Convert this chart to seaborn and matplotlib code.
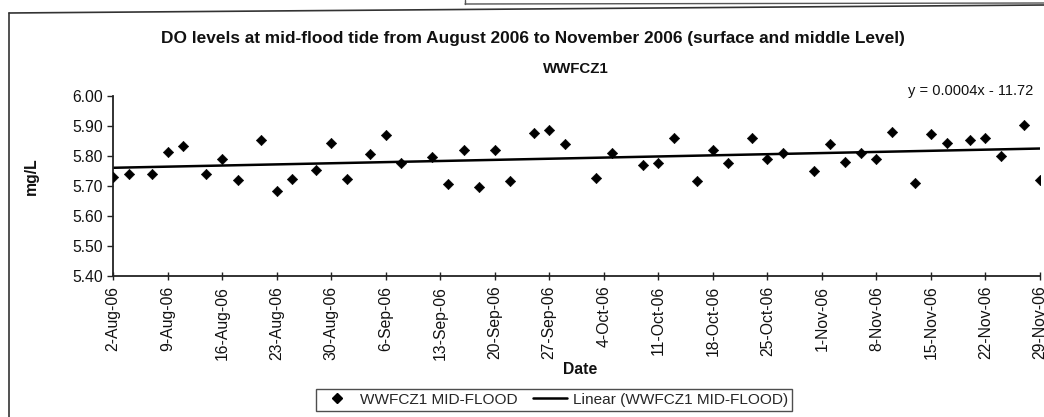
import matplotlib
matplotlib.use("Agg")
import matplotlib.pyplot as plt
import matplotlib.dates as mdates
from matplotlib.lines import Line2D
import numpy as np
import pandas as pd
import seaborn as sns

# Sampling dates and dissolved oxygen readings (mg/L), WWFCZ1 mid-flood
dates = [
    "2006-08-02", "2006-08-04", "2006-08-07", "2006-08-09", "2006-08-11",
    "2006-08-14", "2006-08-16", "2006-08-18", "2006-08-21", "2006-08-23",
    "2006-08-25", "2006-08-28", "2006-08-30", "2006-09-01", "2006-09-04",
    "2006-09-06", "2006-09-08", "2006-09-12", "2006-09-14", "2006-09-16",
    "2006-09-18", "2006-09-20", "2006-09-22", "2006-09-25", "2006-09-27",
    "2006-09-29", "2006-10-03", "2006-10-05", "2006-10-09", "2006-10-11",
    "2006-10-13", "2006-10-16", "2006-10-18", "2006-10-20", "2006-10-23",
    "2006-10-25", "2006-10-27", "2006-10-31", "2006-11-02", "2006-11-04",
    "2006-11-06", "2006-11-08", "2006-11-10", "2006-11-13", "2006-11-15",
    "2006-11-17", "2006-11-20", "2006-11-22", "2006-11-24", "2006-11-27",
    "2006-11-29",
]
do_values = [
    5.730, 5.740, 5.739, 5.812, 5.832, 5.741, 5.791, 5.721, 5.852, 5.683,
    5.723, 5.753, 5.844, 5.724, 5.805, 5.868, 5.776, 5.797, 5.707, 5.818,
    5.696, 5.818, 5.717, 5.877, 5.887, 5.838, 5.726, 5.809, 5.769, 5.777,
    5.859, 5.717, 5.820, 5.777, 5.859, 5.789, 5.808, 5.748, 5.840, 5.778,
    5.810, 5.789, 5.880, 5.710, 5.872, 5.842, 5.851, 5.860, 5.800, 5.901,
    5.721,
]
tick_dates = [
    "2006-08-02", "2006-08-09", "2006-08-16", "2006-08-23", "2006-08-30",
    "2006-09-06", "2006-09-13", "2006-09-20", "2006-09-27", "2006-10-04",
    "2006-10-11", "2006-10-18", "2006-10-25", "2006-11-01", "2006-11-08",
    "2006-11-15", "2006-11-22", "2006-11-29",
]
tick_labels = [
    "2-Aug-06", "9-Aug-06", "16-Aug-06", "23-Aug-06", "30-Aug-06",
    "6-Sep-06", "13-Sep-06", "20-Sep-06", "27-Sep-06", "4-Oct-06",
    "11-Oct-06", "18-Oct-06", "25-Oct-06", "1-Nov-06", "8-Nov-06",
    "15-Nov-06", "22-Nov-06", "29-Nov-06",
]
y_ticks = [5.40, 5.50, 5.60, 5.70, 5.80, 5.90, 6.00]

series_name = "WWFCZ1 MID-FLOOD"
trend_name = "Linear (WWFCZ1 MID-FLOOD)"
main_title = ("DO levels at mid-flood tide from August 2006 to November 2006 "
              "(surface and middle Level)")
sub_title = "WWFCZ1"
equation = "y = 0.0004x - 11.72"

sns.set_theme(style="white")
plt.rcParams["font.family"] = ["Liberation Sans", "DejaVu Sans"]

df = pd.DataFrame({"date": pd.to_datetime(dates), "DO": do_values})
df["datenum"] = mdates.date2num(df["date"])

W, H = 1044, 417
fig = plt.figure(figsize=(W / 100, H / 100), dpi=100)
fig.patch.set_facecolor("white")

def fx(px):
    return px / W

def fy(py):
    return 1 - py / H

ax = fig.add_axes([fx(113), fy(276), fx(1040) - fx(113), fy(95.7) - fy(276)])
ax.set_facecolor("white")

# Scatter of readings and linear trend through them
sns.scatterplot(data=df, x="datenum", y="DO", ax=ax, marker="D", s=28,
                color="black", edgecolor="black", linewidth=0.4, zorder=3,
                legend=False)
sns.regplot(data=df, x="datenum", y="DO", ax=ax, scatter=False, ci=None,
            truncate=True, line_kws={"color": "black", "lw": 1.8, "zorder": 2})

ax.set_xlim(mdates.date2num(pd.Timestamp(tick_dates[0])),
            mdates.date2num(pd.Timestamp(tick_dates[-1])))
ax.set_ylim(5.40, 6.00)
ax.set_yticks(y_ticks)
ax.set_yticklabels([f"{v:.2f}" for v in y_ticks])
ax.set_xticks(mdates.date2num(pd.to_datetime(tick_dates)))
ax.set_xticklabels(tick_labels, rotation=90)
ax.set_xlabel("")
ax.set_ylabel("")

for side in ("top", "right"):
    ax.spines[side].set_visible(False)
for side in ("left", "bottom"):
    ax.spines[side].set_color("#222222")
    ax.spines[side].set_linewidth(1.3)

ax.tick_params(axis="x", direction="inout", length=6, width=1, colors="#222222",
               labelsize=11.3, pad=4, labelcolor="#111111")
ax.tick_params(axis="y", direction="out", length=4, width=1, colors="#222222",
               labelsize=11.3, pad=3, labelcolor="#111111")
ax.tick_params(left=True, bottom=True)

# Titles and labels
fig.text(fx(533), fy(38), main_title, ha="center", va="center",
         fontsize=12.4, fontweight="bold", color="#111111")
fig.text(fx(576), fy(69), sub_title, ha="center", va="center",
         fontsize=10.8, fontweight="bold", color="#111111")
fig.text(fx(1033), fy(91), equation, ha="right", va="center",
         fontsize=10.5, color="#111111")
fig.text(fx(31), fy(176), "mg/L", ha="center", va="center", rotation=90,
         fontsize=11.3, fontweight="bold", color="#111111")
fig.text(fx(580), fy(370), "Date", ha="center", va="center",
         fontsize=11.3, fontweight="bold", color="#111111")

# Legend
handles = [
    Line2D([], [], ls="none", marker="D", ms=5, color="black"),
    Line2D([], [], color="black", lw=1.8),
]
leg = fig.legend(handles, [series_name, trend_name], ncol=2,
                 loc="upper left", bbox_to_anchor=(fx(316), fy(389)),
                 frameon=True, fancybox=False, fontsize=11.1,
                 handlelength=2.2, handletextpad=0.4, columnspacing=1.0,
                 borderpad=0.25, borderaxespad=0)
leg.get_frame().set_edgecolor("#222222")
leg.get_frame().set_linewidth(1.0)

# Outer chart border
fig.add_artist(Line2D([fx(9), fx(9)], [fy(13), fy(417)], color="#333333", lw=1.2))
fig.add_artist(Line2D([fx(9), fx(1044)], [fy(13), fy(5)], color="#333333", lw=1.2))
fig.add_artist(Line2D([fx(465), fx(1044)], [fy(4), fy(3)], color="#555555", lw=1.0))
fig.add_artist(Line2D([fx(465), fx(465)], [fy(0), fy(4)], color="#555555", lw=1.0))

fig.savefig("out.png", dpi=100, facecolor="white")
